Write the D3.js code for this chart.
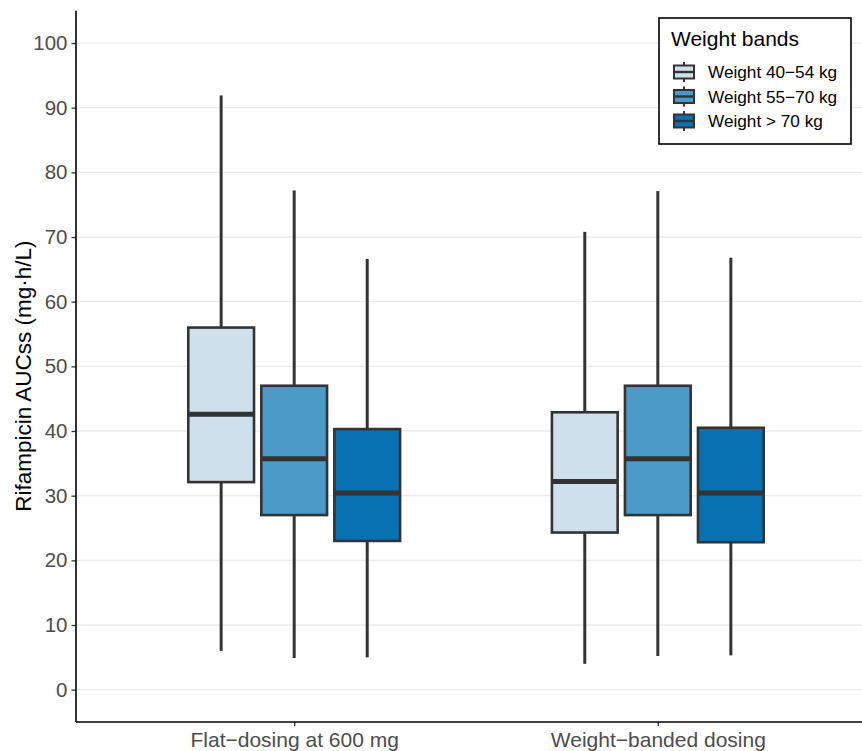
<!DOCTYPE html>
<html>
<head>
<meta charset="utf-8">
<script src="https://cdn.jsdelivr.net/npm/d3@7"></script>
<style>
  html, body { margin: 0; padding: 0; background: #ffffff; }
  svg { display: block; font-family: "Liberation Sans", Arial, Helvetica, sans-serif; }
</style>
</head>
<body>
<svg id="chart" width="862" height="751"></svg>
<script>
// Dosing strategies on the x axis and weight bands within each strategy
const categories = ["Flat\u2212dosing at 600 mg", "Weight\u2212banded dosing"];
const bands = ["Weight 40\u221254 kg", "Weight 55\u221270 kg", "Weight > 70 kg"];
const bandColors = ["#cde0ec", "#4b9ac8", "#0871b2"];

// Box statistics (mg·h/L): one row per dosing strategy, one entry per weight band
const whiskerLow  = [[6.0, 4.9, 5.0], [4.0, 5.2, 5.3]];
const q1          = [[32.1, 27.0, 23.0], [24.3, 27.0, 22.8]];
const median      = [[42.6, 35.7, 30.4], [32.2, 35.7, 30.4]];
const q3          = [[56.0, 47.0, 40.3], [42.9, 47.0, 40.5]];
const whiskerHigh = [[91.9, 77.2, 66.6], [70.8, 77.1, 66.8]];

const yTicks = [0, 10, 20, 30, 40, 50, 60, 70, 80, 90, 100];
const yTitle = "Rifampicin AUCss (mg\u00b7h/L)";
const legendTitle = "Weight bands";

const W = 862, H = 751;
const panelLeft = 76, panelTop = 10.7, panelBottom = 722, panelRight = 876;

const svg = d3.select("#chart");

const y = d3.scaleLinear().domain([-5, 105]).range([panelBottom, panelTop]);
const x = d3.scalePoint().domain(categories).range([panelLeft, panelRight]).padding(0.6);
const dodge = d3.scaleBand().domain(bands).range([-105.9, 105.9]).paddingInner(0.1);

// Horizontal grid
svg.append("g")
  .selectAll("line")
  .data(yTicks)
  .join("line")
  .attr("x1", panelLeft).attr("x2", W)
  .attr("y1", d => y(d)).attr("y2", d => y(d))
  .attr("stroke", "#ebebeb")
  .attr("stroke-width", 1.3);

// Flatten box rows
const boxes = [];
categories.forEach((c, i) => {
  bands.forEach((b, j) => {
    boxes.push({
      cat: c, band: b, color: bandColors[j],
      lo: whiskerLow[i][j], q1: q1[i][j], med: median[i][j],
      q3: q3[i][j], hi: whiskerHigh[i][j]
    });
  });
});

const stroke = "#333333";
const g = svg.append("g");

const bx = g.selectAll("g.box").data(boxes).join("g").attr("class", "box")
  .attr("transform", d => `translate(${x(d.cat) + dodge(d.band) + dodge.bandwidth() / 2},0)`);

// whiskers
bx.append("line")
  .attr("x1", 0).attr("x2", 0)
  .attr("y1", d => y(d.hi)).attr("y2", d => y(d.q3))
  .attr("stroke", stroke).attr("stroke-width", 3);
bx.append("line")
  .attr("x1", 0).attr("x2", 0)
  .attr("y1", d => y(d.q1)).attr("y2", d => y(d.lo))
  .attr("stroke", stroke).attr("stroke-width", 3);

// boxes
bx.append("rect")
  .attr("x", -dodge.bandwidth() / 2)
  .attr("width", dodge.bandwidth())
  .attr("y", d => y(d.q3))
  .attr("height", d => y(d.q1) - y(d.q3))
  .attr("fill", d => d.color)
  .attr("stroke", stroke).attr("stroke-width", 2.6);

// medians
bx.append("line")
  .attr("x1", -dodge.bandwidth() / 2).attr("x2", dodge.bandwidth() / 2)
  .attr("y1", d => y(d.med)).attr("y2", d => y(d.med))
  .attr("stroke", stroke).attr("stroke-width", 5);

// Y axis
const yAxis = svg.append("g")
  .attr("transform", `translate(${panelLeft},0)`)
  .call(d3.axisLeft(y).tickValues(yTicks).tickSize(4.5).tickPadding(4));
yAxis.select(".domain").remove();
yAxis.selectAll(".tick line").attr("stroke", "#333").attr("stroke-width", 1.3);
yAxis.selectAll(".tick text")
  .attr("fill", "#4d4d4d")
  .style("font-size", "20.5px")
  .style("font-family", "'Liberation Sans', Arial, sans-serif");
svg.append("line")
  .attr("x1", panelLeft).attr("x2", panelLeft)
  .attr("y1", panelTop).attr("y2", panelBottom)
  .attr("stroke", "#000").attr("stroke-width", 1.6);

// X axis
const xAxis = svg.append("g")
  .attr("transform", `translate(0,${panelBottom})`)
  .call(d3.axisBottom(x).tickSize(4).tickPadding(6));
xAxis.select(".domain").remove();
xAxis.selectAll(".tick line").attr("stroke", "#333").attr("stroke-width", 1.3);
xAxis.selectAll(".tick text")
  .attr("fill", "#4d4d4d")
  .style("font-size", "21px")
  .style("font-family", "'Liberation Sans', Arial, sans-serif");
svg.append("line")
  .attr("x1", panelLeft).attr("x2", W)
  .attr("y1", panelBottom).attr("y2", panelBottom)
  .attr("stroke", "#000").attr("stroke-width", 1.6);

// Y axis title
svg.append("text")
  .attr("transform", `translate(31,${(y(27) + y(70)) / 2}) rotate(-90)`)
  .attr("text-anchor", "middle")
  .attr("fill", "#000")
  .style("font-size", "22.5px")
  .text(yTitle);

// Legend
const lg = svg.append("g").attr("transform", "translate(659,18)");
lg.append("rect")
  .attr("x", 0).attr("y", 0).attr("width", 192).attr("height", 126)
  .attr("fill", "#fff").attr("stroke", "#000").attr("stroke-width", 1.6);
lg.append("text")
  .attr("x", 12).attr("y", 28)
  .style("font-size", "21px")
  .attr("fill", "#000")
  .text(legendTitle);

const items = lg.selectAll("g.item").data(bands).join("g").attr("class", "item")
  .attr("transform", (d, i) => `translate(0,${54 + i * 24.5})`);
items.append("line")
  .attr("x1", 25).attr("x2", 25).attr("y1", -10).attr("y2", 10)
  .attr("stroke", stroke).attr("stroke-width", 2);
items.append("rect")
  .attr("x", 15).attr("y", -6.5).attr("width", 20).attr("height", 13)
  .attr("fill", (d, i) => bandColors[i])
  .attr("stroke", stroke).attr("stroke-width", 2);
items.append("line")
  .attr("x1", 15).attr("x2", 35).attr("y1", 0).attr("y2", 0)
  .attr("stroke", stroke).attr("stroke-width", 2.4);
items.append("text")
  .attr("x", 49).attr("y", 6)
  .style("font-size", "17.2px")
  .attr("fill", "#000")
  .text(d => d);
</script>
</body>
</html>
